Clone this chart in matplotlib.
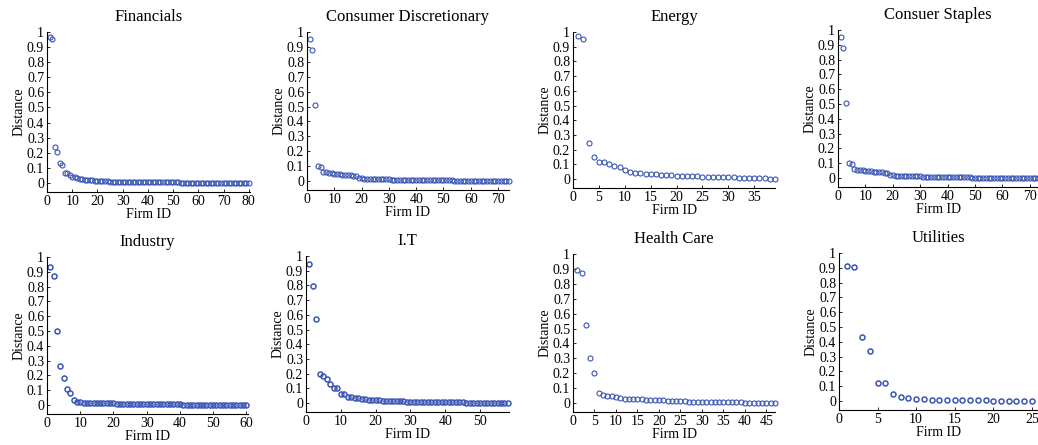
import numpy as np
import matplotlib
matplotlib.use("Agg")
import matplotlib.pyplot as plt
from matplotlib.ticker import FuncFormatter

plt.rcParams['font.family'] = ['Liberation Serif', 'DejaVu Serif']

# distance values per sector
financials = [0.965, 0.955, 0.240, 0.208, 0.135, 0.122, 0.066, 0.064, 0.050, 0.042,
              0.040, 0.032, 0.028, 0.024, 0.022, 0.020, 0.019, 0.018, 0.016, 0.015,
              0.013, 0.012, 0.011, 0.010, 0.009, 0.009, 0.008, 0.008, 0.007, 0.007,
              0.006, 0.006, 0.006, 0.005, 0.005, 0.005, 0.004, 0.004, 0.004, 0.004,
              0.004, 0.004, 0.003, 0.003, 0.003, 0.003, 0.003, 0.003, 0.003, 0.003,
              0.003, 0.003, 0.002, 0.002, 0.002, 0.002, 0.002, 0.002, 0.002, 0.002,
              0.002, 0.002, 0.002, 0.002, 0.002, 0.002, 0.001, 0.001, 0.001, 0.001,
              0.001, 0.001, 0.001, 0.001, 0.001, 0.001, 0.001, 0.001, 0.001, 0.001]
consumer_disc = [0.955, 0.880, 0.510, 0.100, 0.095, 0.060, 0.058, 0.055, 0.052, 0.050,
                 0.049, 0.045, 0.043, 0.042, 0.040, 0.038, 0.036, 0.032, 0.020, 0.018,
                 0.017, 0.016, 0.016, 0.015, 0.014, 0.013, 0.012, 0.012, 0.011, 0.011,
                 0.010, 0.010, 0.009, 0.009, 0.008, 0.008, 0.008, 0.007, 0.007, 0.007,
                 0.006, 0.006, 0.006, 0.006, 0.005, 0.005, 0.005, 0.005, 0.004, 0.004,
                 0.004, 0.004, 0.004, 0.003, 0.003, 0.003, 0.003, 0.003, 0.003, 0.002,
                 0.002, 0.002, 0.002, 0.002, 0.002, 0.002, 0.001, 0.001, 0.001, 0.001,
                 0.001, 0.001, 0.001, 0.001]
energy = [0.975, 0.950, 0.245, 0.150, 0.115, 0.118, 0.100, 0.092, 0.085, 0.060,
          0.046, 0.045, 0.041, 0.038, 0.037, 0.033, 0.030, 0.029, 0.027, 0.023,
          0.022, 0.021, 0.020, 0.019, 0.018, 0.017, 0.016, 0.015, 0.014, 0.013,
          0.012, 0.011, 0.010, 0.008, 0.007, 0.006, 0.005, 0.004, 0.003]
consumer_staples = [0.955, 0.880, 0.510, 0.100, 0.095, 0.060, 0.058, 0.055, 0.052, 0.050,
                    0.049, 0.045, 0.043, 0.042, 0.040, 0.038, 0.036, 0.032, 0.020, 0.018,
                    0.017, 0.016, 0.016, 0.015, 0.014, 0.013, 0.012, 0.012, 0.011, 0.011,
                    0.010, 0.010, 0.009, 0.009, 0.008, 0.008, 0.008, 0.007, 0.007, 0.007,
                    0.006, 0.006, 0.006, 0.006, 0.005, 0.005, 0.005, 0.005, 0.004, 0.004,
                    0.004, 0.004, 0.004, 0.003, 0.003, 0.003, 0.003, 0.003, 0.003, 0.002,
                    0.002, 0.002, 0.002, 0.002, 0.002, 0.002, 0.001, 0.001, 0.001, 0.001,
                    0.001, 0.001, 0.001, 0.001]
industry = [0.930, 0.870, 0.500, 0.265, 0.180, 0.110, 0.085, 0.035, 0.020, 0.018,
            0.017, 0.016, 0.015, 0.014, 0.013, 0.013, 0.012, 0.012, 0.011, 0.011,
            0.010, 0.010, 0.010, 0.009, 0.009, 0.009, 0.008, 0.008, 0.008, 0.007,
            0.007, 0.007, 0.006, 0.006, 0.006, 0.006, 0.005, 0.005, 0.005, 0.005,
            0.004, 0.004, 0.004, 0.004, 0.004, 0.003, 0.003, 0.003, 0.003, 0.003,
            0.003, 0.002, 0.002, 0.002, 0.002, 0.002, 0.002, 0.002, 0.001, 0.001]
it = [0.945, 0.795, 0.570, 0.200, 0.185, 0.165, 0.130, 0.100, 0.100, 0.060,
      0.060, 0.045, 0.040, 0.036, 0.035, 0.030, 0.025, 0.022, 0.020, 0.020,
      0.019, 0.018, 0.017, 0.016, 0.015, 0.014, 0.013, 0.012, 0.011, 0.010,
      0.010, 0.009, 0.009, 0.008, 0.008, 0.007, 0.007, 0.007, 0.006, 0.006,
      0.006, 0.005, 0.005, 0.005, 0.005, 0.004, 0.004, 0.004, 0.004, 0.003,
      0.003, 0.003, 0.003, 0.002, 0.002, 0.002, 0.002, 0.002]
health_care = [0.895, 0.870, 0.525, 0.305, 0.205, 0.070, 0.055, 0.050, 0.045, 0.042,
               0.035, 0.030, 0.027, 0.026, 0.025, 0.024, 0.023, 0.022, 0.020, 0.019,
               0.018, 0.017, 0.016, 0.015, 0.013, 0.011, 0.010, 0.009, 0.008, 0.008,
               0.007, 0.007, 0.006, 0.006, 0.005, 0.005, 0.004, 0.004, 0.004, 0.003,
               0.003, 0.003, 0.002, 0.002, 0.002, 0.002, 0.001]
utilities = [0.915, 0.905, 0.430, 0.335, 0.125, 0.120, 0.045, 0.028, 0.020, 0.015,
             0.012, 0.010, 0.009, 0.008, 0.007, 0.006, 0.006, 0.005, 0.005, 0.004,
             0.004, 0.003, 0.003, 0.002, 0.002]

titles = ["Financials", "Consumer Discretionary", "Energy", "Consuer Staples",
          "Industry", "I.T", "Health Care", "Utilities"]
series = [financials, consumer_disc, energy, consumer_staples,
          industry, it, health_care, utilities]
xmax = [80.5, 74, 39, 73, 60.5, 58.3, 47, 25.8]
xstep = [10, 10, 5, 10, 10, 10, 5, 5]

# axes boxes in pixels: left, right, x-axis y, y=1 y
boxes = [(47, 250, 192, 32), (307, 509, 190, 32), (573, 775, 188, 32), (838, 1038, 187, 30),
         (47, 248, 414, 257), (306, 509, 412, 256), (573, 775, 412, 254), (839, 1038, 410, 253)]

W, H = 1038, 445
fig = plt.figure(figsize=(W / 100, H / 100), dpi=100)
blue = '#3a55b4'
ylo = -0.06

for i, (title, vals) in enumerate(zip(titles, series)):
    l, r, b, t = boxes[i]
    ax = fig.add_axes([l / W, (H - b) / H, (r - l) / W, (b - t) / H])
    x = np.arange(1, len(vals) + 1)
    ew = 1.1 if i in (4, 5, 7) else 0.8
    ax.plot(x, vals, 'o', mfc='none', mec=blue, ms=3.6, mew=ew, clip_on=False)
    ax.set_xlim(0, xmax[i])
    ax.set_ylim(ylo, 1.0)
    ax.set_xticks(np.arange(0, xmax[i] + 0.01, xstep[i]))
    ax.set_yticks(np.round(np.arange(0, 1.01, 0.1), 1))
    ax.yaxis.set_major_formatter(FuncFormatter(lambda v, p: ('%g' % round(v, 1))))
    for s in ('top', 'right'):
        ax.spines[s].set_visible(False)
    ax.spines['left'].set_linewidth(0.8)
    ax.spines['bottom'].set_linewidth(0.8)
    ax.tick_params(direction='in', length=2, width=0.6, labelsize=10, pad=2)
    ax.set_title(title, fontsize=12, pad=8)
    ax.set_xlabel("Firm ID", fontsize=10, labelpad=0)
    ax.set_ylabel("Distance", fontsize=10, labelpad=1)

fig.savefig("out.png", dpi=100)
